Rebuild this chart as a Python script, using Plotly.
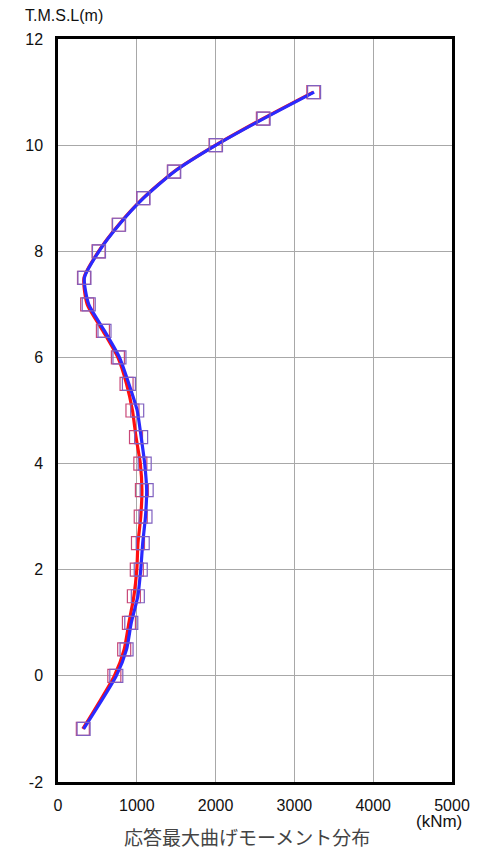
import plotly.graph_objects as go

elev = [11, 10.5, 10, 9.5, 9, 8.5, 8, 7.5, 7, 6.5, 6, 5.5, 5, 4.5, 4, 3.5, 3, 2.5, 2, 1.5, 1, 0.5, 0, -1]
moment_red = [3240, 2600, 2000, 1470, 1080, 770, 515, 330, 370, 570, 760, 870, 945, 990, 1045, 1065, 1050, 1015, 1000, 963, 900, 840, 715, 315]
moment_blue = [3250, 2610, 2005, 1475, 1085, 775, 520, 335, 390, 590, 780, 900, 1005, 1055, 1100, 1125, 1110, 1075, 1050, 1013, 930, 870, 740, 325]

x_ticks = [0, 1000, 2000, 3000, 4000, 5000]
y_ticks = [-2, 0, 2, 4, 6, 8, 10, 12]

NUM_FONT = "Liberation Sans, Arial, sans-serif"
JP_FONT = "Noto Sans CJK JP, sans-serif"

fig = go.Figure()
fig.add_trace(go.Scatter(
    x=moment_red, y=elev, mode="lines+markers",
    line=dict(color="#ff1010", width=3.2, shape="spline", smoothing=0.6),
    marker=dict(symbol="square-open", size=13, color="#c84878", line=dict(width=1.2)),
    showlegend=False,
))
fig.add_trace(go.Scatter(
    x=moment_blue, y=elev, mode="lines+markers",
    line=dict(color="#2a2aff", width=3.2, shape="spline", smoothing=0.6),
    marker=dict(symbol="square-open", size=13, color="#8060c0", line=dict(width=1.2)),
    showlegend=False,
))

fig.update_layout(
    width=482, height=851,
    margin=dict(l=58, r=26, t=39, b=69),
    paper_bgcolor="white", plot_bgcolor="white",
    font=dict(family=NUM_FONT, size=16, color="#111111"),
    xaxis=dict(range=[0, 5000], tickvals=x_ticks, ticktext=[str(v) for v in x_ticks],
               showgrid=True, gridcolor="#a8a8a8", gridwidth=1,
               showline=True, linecolor="black", linewidth=2.5, mirror=True,
               zeroline=False, ticks="", ticklen=0, ticklabelstandoff=7,
               tickfont=dict(size=16)),
    yaxis=dict(range=[-2, 12], tickvals=y_ticks, ticktext=[str(v) for v in y_ticks],
               showgrid=True, gridcolor="#a8a8a8", gridwidth=1,
               showline=True, linecolor="black", linewidth=2.5, mirror=True,
               zeroline=False, ticks="", ticklen=0, ticklabelstandoff=9,
               tickfont=dict(size=16)),
    annotations=[
        dict(text="T.M.S.L(m)", xref="paper", yref="paper", x=-0.088, y=1.0323,
             xanchor="left", yanchor="middle", showarrow=False, font=dict(size=16)),
        dict(text="(kNm)", xref="paper", yref="paper", x=1.030, y=-0.0535,
             xanchor="right", yanchor="middle", showarrow=False, font=dict(size=17)),
        dict(text="応答最大曲げモーメント分布", xref="paper", yref="paper", x=0.48, y=-0.074,
             xanchor="center", yanchor="middle", showarrow=False,
             font=dict(family=JP_FONT, size=19, color="#444444")),
    ],
)

fig.write_html("out.html", config={"displayModeBar": False},
               post_script="document.body.style.margin='0';")
